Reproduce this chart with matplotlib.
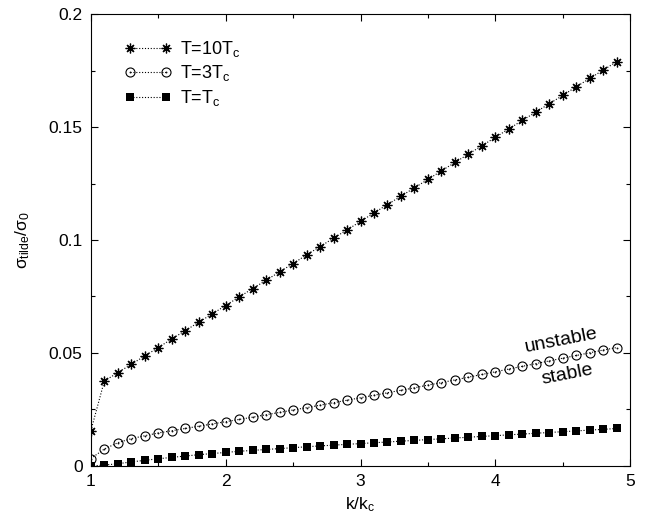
import matplotlib
matplotlib.use("Agg")
import matplotlib.pyplot as plt
from matplotlib.path import Path
from matplotlib.ticker import MultipleLocator

plt.rcParams["font.family"] = ["Liberation Sans", "DejaVu Sans"]
plt.rcParams["mathtext.fontset"] = "custom"
plt.rcParams["mathtext.rm"] = "Liberation Sans"
plt.rcParams["mathtext.it"] = "Liberation Sans"
plt.rcParams["mathtext.bf"] = "Liberation Sans:bold"

k_ratio = [1.0, 1.1, 1.2, 1.3, 1.4, 1.5, 1.6, 1.7, 1.8, 1.9,
           2.0, 2.1, 2.2, 2.3, 2.4, 2.5, 2.6, 2.7, 2.8, 2.9,
           3.0, 3.1, 3.2, 3.3, 3.4, 3.5, 3.6, 3.7, 3.8, 3.9,
           4.0, 4.1, 4.2, 4.3, 4.4, 4.5, 4.6, 4.7, 4.8, 4.9]

sigma_10tc = [0.0156, 0.0376, 0.0413, 0.0450, 0.0487, 0.0524, 0.0562, 0.0599, 0.0636, 0.0673,
              0.0710, 0.0748, 0.0785, 0.0822, 0.0859, 0.0896, 0.0934, 0.0971, 0.1008, 0.1045,
              0.1082, 0.1120, 0.1157, 0.1194, 0.1231, 0.1268, 0.1306, 0.1343, 0.1380, 0.1417,
              0.1454, 0.1492, 0.1529, 0.1566, 0.1603, 0.1640, 0.1678, 0.1715, 0.1752, 0.1789]

sigma_3tc = [0.0033, 0.0075, 0.0103, 0.0121, 0.0134, 0.0146, 0.0156, 0.0166, 0.0176, 0.0186,
             0.0196, 0.0206, 0.0216, 0.0227, 0.0237, 0.0248, 0.0258, 0.0269, 0.0280, 0.0291,
             0.0302, 0.0313, 0.0324, 0.0335, 0.0346, 0.0358, 0.0369, 0.0381, 0.0393, 0.0405,
             0.0417, 0.0429, 0.0441, 0.0453, 0.0465, 0.0477, 0.0489, 0.0501, 0.0513, 0.0524]

sigma_tc = [0.0000, 0.0004, 0.0010, 0.0018, 0.0025, 0.0032, 0.0038, 0.0044, 0.0050, 0.0055,
            0.0060, 0.0065, 0.0069, 0.0073, 0.0077, 0.0081, 0.0085, 0.0089, 0.0092, 0.0096,
            0.0099, 0.0103, 0.0106, 0.0110, 0.0113, 0.0117, 0.0120, 0.0124, 0.0127, 0.0131,
            0.0134, 0.0138, 0.0141, 0.0145, 0.0148, 0.0152, 0.0155, 0.0159, 0.0162, 0.0166]

labels = [r"T=10T$_{\rm c}$", r"T=3T$_{\rm c}$", r"T=T$_{\rm c}$"]

# gnuplot style markers: 8-spoke asterisk and open circle with a centre dot
asterisk = (8, 2, 0)
dotted_circle = Path.make_compound_path(Path.unit_circle(), Path.circle((0, 0), 0.08))

fig = plt.figure(figsize=(6.49, 5.21), dpi=100)
ax = fig.add_axes([0.140, 0.1056, 0.831, 0.8675])

line_style = dict(color="black", linestyle=(0, (1, 1.6)), linewidth=0.8)
ax.plot(k_ratio, sigma_10tc, marker=asterisk, markersize=7, markeredgewidth=0.9,
        markeredgecolor="black", label=labels[0], **line_style)
ax.plot(k_ratio, sigma_3tc, marker=dotted_circle, markersize=6.5, markeredgewidth=0.8,
        markerfacecolor="none", markeredgecolor="black", label=labels[1], **line_style)
ax.plot(k_ratio, sigma_tc, marker="s", markersize=5.2, markeredgewidth=0,
        markerfacecolor="black", label=labels[2], **line_style)

ax.set_xlim(1, 5)
ax.set_ylim(0, 0.2)
ax.set_xticks([1, 2, 3, 4, 5])
ax.set_xticklabels(["1", "2", "3", "4", "5"])
ax.set_yticks([0, 0.05, 0.1, 0.15, 0.2])
ax.set_yticklabels(["0", "0.05", "0.1", "0.15", "0.2"])
ax.xaxis.set_minor_locator(MultipleLocator(0.5))
ax.yaxis.set_minor_locator(MultipleLocator(0.025))
ax.tick_params(which="both", direction="in", top=True, right=True, labelsize=12.5,
               width=0.8, pad=6)
ax.tick_params(which="major", length=5)
ax.tick_params(which="minor", length=3)
for spine in ax.spines.values():
    spine.set_linewidth(0.8)

ax.set_xlabel(r"k/k$_{\rm c}$", fontsize=12.5, labelpad=4)
ax.set_ylabel(r"$\sigma_{\rm tilde}/\sigma_{\rm 0}$", fontsize=12.5, labelpad=12)

ax.text(4.49, 0.0555, "unstable", fontsize=14, rotation=11, ha="center", va="center")
ax.text(4.53, 0.0405, "stable", fontsize=14, rotation=11, ha="center", va="center")

ax.legend(loc="upper left", bbox_to_anchor=(0.062, 0.945), frameon=False, fontsize=13,
          numpoints=2, handlelength=2.6, handletextpad=0.5, labelspacing=0.25,
          borderpad=0, borderaxespad=0)

fig.savefig("out.png", dpi=100)
